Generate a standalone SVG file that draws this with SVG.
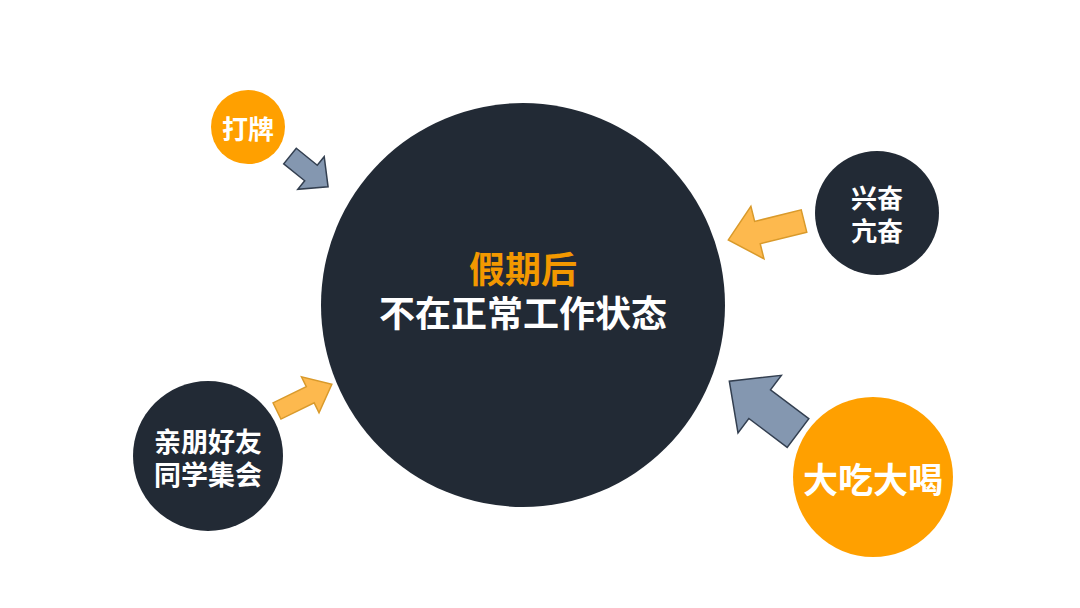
<svg xmlns="http://www.w3.org/2000/svg" width="1080" height="608" viewBox="0 0 1080 608">
<style>
text{font-family:"Noto Sans CJK SC","Noto Sans",sans-serif;font-weight:bold;text-anchor:middle;dominant-baseline:central}
.dark{fill:#222a35}
.org{fill:#ffa000}
.w{fill:#fff}
.ga{fill:#8497b0;stroke:#333f50;stroke-width:1.5;stroke-linejoin:miter}
.oa{fill:#fdb94e;stroke:#d99a2b;stroke-width:1.5;stroke-linejoin:miter}
</style>
<rect width="1080" height="608" fill="#fff"/>
<g id="connectors">
<path class="ga" transform="translate(290,156) rotate(39)" d="M0,-10 L27,-10 L27,-21 L49,0 L27,21 L27,10 L0,10 Z"/>
<path class="oa" transform="translate(804,221) rotate(166)" d="M0,-11.5 L48,-11.5 L48,-27 L78,0 L48,27 L48,11.5 L0,11.5 Z"/>
<path class="oa" transform="translate(277,411) rotate(-26)" d="M0,-9 L37,-9 L37,-20 L61,0 L37,20 L37,9 L0,9 Z"/>
<path class="ga" transform="translate(798,433) rotate(217)" d="M0,-18 L48,-18 L48,-36 L86,0 L48,36 L48,18 L0,18 Z"/>
</g>
<g id="main">
<circle class="dark" cx="523" cy="305" r="202"/>
<text x="523" y="267" font-size="36" fill="#f39800">假期后</text>
<text x="523" y="311" font-size="36" class="w">不在正常工作状态</text>
</g>
<g id="dapai">
<circle class="org" cx="248" cy="127" r="37"/>
<text x="248" y="127" font-size="26" class="w">打牌</text>
</g>
<g id="xingfen">
<circle class="dark" cx="877" cy="213" r="62"/>
<text x="877" y="196" font-size="26" class="w">兴奋</text>
<text x="877" y="229" font-size="26" class="w">亢奋</text>
</g>
<g id="qinpeng">
<circle class="dark" cx="208" cy="456" r="75"/>
<text x="208" y="440" font-size="27" class="w">亲朋好友</text>
<text x="208" y="473" font-size="27" class="w">同学集会</text>
</g>
<g id="dachi">
<circle class="org" cx="873" cy="477" r="80"/>
<text x="873" y="477" font-size="35" class="w">大吃大喝</text>
</g>
</svg>
